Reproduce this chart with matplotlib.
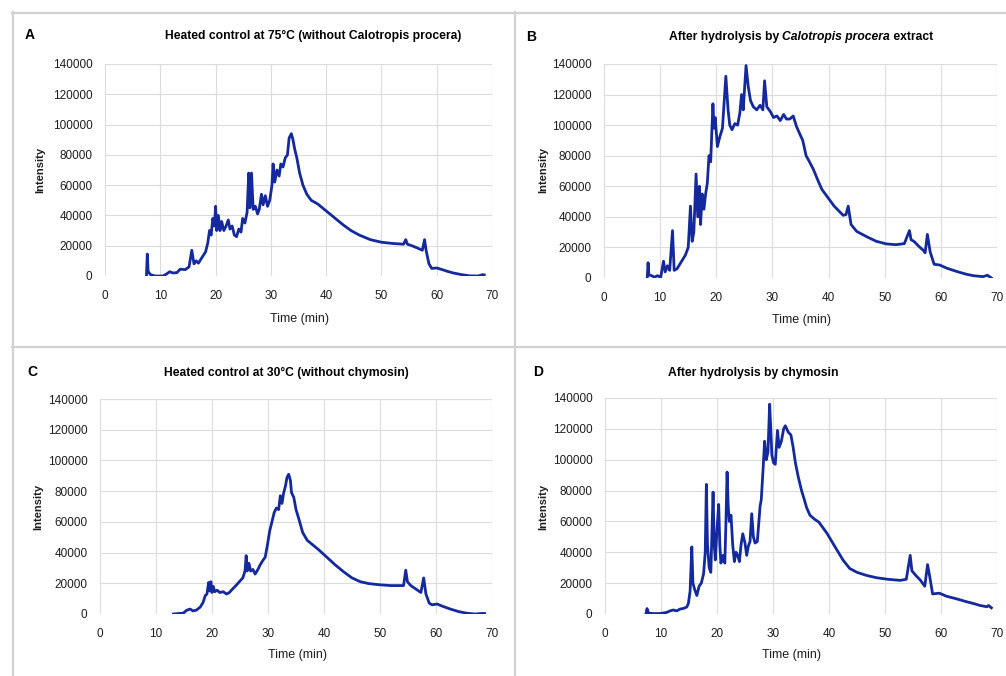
import matplotlib
matplotlib.use('Agg')
import matplotlib.pyplot as plt
from matplotlib.lines import Line2D

plt.rcParams['font.family'] = ['Liberation Sans', 'DejaVu Sans']

# ---- data ----
time_a = [7.5, 7.65, 7.8, 8.2, 9.0, 10.5, 11.2, 11.7, 12.3, 13.0, 13.6, 14.5, 15.2, 15.7, 16.1, 16.5,
          16.9, 17.5, 18.2, 18.6, 18.9, 19.2, 19.5, 19.8, 20.0, 20.2, 20.5, 20.8, 21.1, 21.5, 21.9,
          22.3, 22.6, 23.0, 23.4, 23.8, 24.2, 24.6, 24.9, 25.3, 25.7, 26.0, 26.2, 26.5, 26.8, 27.2,
          27.6, 27.9, 28.3, 28.6, 29.0, 29.4, 29.8, 30.2, 30.4, 30.7, 31.1, 31.5, 31.8, 32.2, 32.6,
          33.0, 33.3, 33.7, 34.0, 34.3, 34.7, 35.2, 35.8, 36.5, 37.3, 38.5, 40.0, 41.5, 43.0, 44.5,
          46.0, 48.0, 50.0, 52.0, 54.0, 54.4, 54.7, 55.5, 56.5, 57.4, 57.8, 58.1, 58.6, 59.1, 60.0,
          61.0, 62.0, 63.0, 64.5, 66.0, 67.5, 68.3, 68.6]
int_a = [0, 14500, 3000, 1000, 0, 0, 1500, 2800, 2000, 2200, 4500, 4200, 6000, 17000, 8000, 10000,
         8500, 12000, 16000, 22000, 30000, 27000, 38000, 33000, 46000, 30000, 40000, 30000, 36000,
         30000, 33000, 37000, 31000, 33000, 27000, 26000, 31000, 29000, 38000, 35000, 42000, 68000,
         45000, 68000, 44000, 46000, 41000, 44000, 54000, 47000, 53000, 46000, 50000, 60000, 74000,
         62000, 70000, 66000, 74000, 72000, 78000, 80000, 91000, 94000, 90000, 84000, 78000, 68000,
         60000, 54000, 50000, 47500, 43000, 38500, 34000, 30000, 27000, 24000, 22300, 21500, 21000,
         24000, 21000, 20000, 18500, 17000, 24000, 16500, 8000, 5000, 5300, 4200, 3000, 2000, 900,
         100, 0, 900, 700]

time_b = [7.7, 7.85, 8.0, 8.5, 9.0, 9.5, 10.1, 10.6, 10.9, 11.3, 11.7, 12.2, 12.5, 13.0, 13.5, 14.0,
          14.5, 15.0, 15.4, 15.7, 16.0, 16.4, 16.7, 17.0, 17.2, 17.5, 17.8, 18.1, 18.4, 18.7, 19.0,
          19.4, 19.6, 19.8, 20.2, 20.6, 21.1, 21.7, 22.1, 22.4, 22.8, 23.3, 23.8, 24.2, 24.5, 24.8,
          25.3, 25.7, 26.1, 26.6, 27.2, 27.8, 28.3, 28.6, 29.0, 29.6, 30.2, 30.8, 31.4, 32.0, 32.5,
          33.1, 33.7, 34.3, 34.9, 35.4, 36.0, 36.6, 37.3, 38.2, 38.8, 40.0, 41.0, 42.6, 43.1, 43.5,
          44.0, 45.0, 46.8, 48.5, 50.3, 52.0, 53.5, 54.4, 54.7, 55.2, 56.0, 56.9, 57.2, 57.6, 58.1,
          58.8, 59.8, 61.0, 62.8, 64.5, 65.8, 67.5, 68.3, 69.0]
int_b = [0, 10000, 2000, 1500, 500, 1500, 500, 11000, 4000, 8000, 5000, 31000, 5000, 6000, 9000,
         12000, 15000, 20000, 47000, 24000, 30000, 68000, 40000, 60000, 35000, 55000, 45000, 55000,
         62000, 80000, 76000, 114000, 98000, 105000, 86000, 92000, 98000, 132000, 110000, 100000,
         97000, 101000, 100000, 108000, 120000, 110000, 139000, 125000, 116000, 112000, 110000,
         113000, 110000, 129000, 112000, 109000, 105000, 106000, 103000, 107000, 104000, 104000,
         106000, 99000, 94000, 90000, 80000, 76000, 71000, 63000, 58000, 52000, 47000, 41000, 41500,
         47000, 35000, 30500, 27000, 24000, 22300, 21800, 22500, 31000, 25000, 24000, 21000, 18000,
         16500, 28500, 17000, 9000, 8500, 6500, 4300, 2500, 1500, 900, 1800, 0]

time_c = [13.1, 14.0, 14.9, 15.5, 16.1, 16.6, 17.2, 17.9, 18.4, 18.8, 19.1, 19.4, 19.6, 19.8, 20.0,
          20.2, 20.5, 20.9, 21.4, 22.0, 22.6, 23.1, 23.6, 24.4, 25.0, 25.5, 25.9, 26.1, 26.3, 26.6,
          26.9, 27.3, 27.7, 28.2, 28.6, 29.1, 29.5, 29.9, 30.3, 30.7, 31.1, 31.5, 31.9, 32.2, 32.5,
          32.8, 33.1, 33.4, 33.7, 34.0, 34.2, 34.6, 35.0, 35.5, 36.2, 37.0, 38.0, 39.0, 40.5, 42.0,
          43.5, 45.0, 46.5, 48.0, 50.0, 52.0, 54.2, 54.6, 54.9, 55.5, 56.5, 57.3, 57.8, 58.2, 58.8,
          59.3, 60.2, 61.2, 62.5, 64.0, 65.5, 67.0, 68.3, 68.7]
int_c = [0, 300, 600, 2500, 3200, 2000, 2500, 4500, 7500, 12000, 13000, 20500, 15000, 21000, 14000,
         18000, 14500, 15500, 14000, 14500, 13000, 14000, 16000, 19000, 21500, 23500, 28000, 38000,
         28000, 33000, 28000, 29000, 26000, 29000, 32000, 35000, 37000, 45000, 54000, 60000, 66000,
         69000, 68000, 77000, 72000, 79000, 83000, 89000, 91000, 87000, 79000, 76000, 68000, 62000,
         53000, 48000, 45000, 42000, 37000, 32000, 27500, 23500, 21000, 19800, 19000, 18500, 18500,
         28500, 21000, 18500, 16000, 14000, 23500, 13000, 7000, 6000, 6500, 5000, 3300, 1600, 500, 0,
         400, 300]

time_d = [7.3, 7.5, 7.8, 8.6, 9.8, 11.0, 11.6, 12.2, 12.8, 13.4, 14.0, 14.6, 14.9, 15.2, 15.5, 15.7,
          16.0, 16.4, 16.8, 17.2, 17.6, 17.9, 18.1, 18.3, 18.6, 18.9, 19.3, 19.5, 19.7, 20.0, 20.3,
          20.5, 20.7, 21.1, 21.4, 21.6, 21.8, 22.0, 22.2, 22.5, 22.8, 23.1, 23.4, 23.7, 24.0, 24.3,
          24.6, 25.0, 25.3, 25.6, 25.9, 26.2, 26.5, 26.8, 27.2, 27.7, 27.9, 28.2, 28.5, 28.8, 29.1,
          29.4, 29.6, 29.8, 30.1, 30.4, 30.8, 31.1, 31.5, 31.9, 32.2, 32.7, 33.2, 33.6, 34.0, 34.5,
          35.1, 35.6, 36.0, 36.6, 37.4, 38.2, 39.6, 41.0, 42.5, 43.7, 45.0, 46.7, 48.5, 50.5, 52.7,
          53.8, 54.5, 54.8, 55.5, 56.3, 57.1, 57.6, 58.0, 58.5, 59.7, 61.0, 62.8, 64.5, 65.8, 67.0,
          68.2, 68.5, 69.0]
int_d = [0, 3500, 500, 300, 300, 1000, 2000, 2600, 2000, 3200, 3600, 4500, 7000, 15000, 43500, 20000,
         16000, 12000, 18000, 20000, 26000, 40000, 84000, 45000, 30000, 27000, 79000, 45000, 35000,
         55000, 71000, 45000, 33000, 38000, 33000, 60000, 92000, 70000, 60000, 64000, 45000, 34000,
         40000, 38000, 34000, 45000, 52000, 46000, 38000, 44000, 47000, 65000, 50000, 46000, 47000,
         70000, 74000, 92000, 112000, 100000, 105000, 136000, 120000, 103000, 98000, 97000, 119000,
         108000, 112000, 120000, 122000, 118000, 116000, 108000, 98000, 89000, 80000, 74000, 69000,
         64000, 61500, 59500, 52500, 44000, 35000, 29500, 27000, 25000, 23500, 22500, 21800, 22500,
         38000, 28000, 25000, 22000, 18000, 32000, 24000, 13000, 13500, 11500, 9800, 8000, 6800, 5500,
         4700, 5500, 4000]

x_ticks = [0, 10, 20, 30, 40, 50, 60, 70]
y_ticks = [0, 20000, 40000, 60000, 80000, 100000, 120000, 140000]

W, H = 1006, 676
LINE = '#13299d'
GRID = '#dcdcdc'
TXT = '#1e1e1e'


def fx(px):
    return px / W


def fy(py):
    return 1 - py / H


fig = plt.figure(figsize=(W / 100, H / 100), dpi=100)
fig.patch.set_facecolor('white')

# panel frames
for xs, ys in [([12, W], [13, 13]), ([13, 13], [12, H]), ([515, 515], [12, H]), ([12, W], [347, 347])]:
    fig.add_artist(Line2D([fx(x) for x in xs], [fy(y) for y in ys], transform=fig.transFigure,
                          color='#d2d2d2', lw=1.6))

# (left, top, right, bottom) in pixels for each plot area
panels = [
    dict(box=(105, 64, 492, 276), t=time_a, y=int_a, letter='A', lpos=(30, 35),
         title=[('Heated control at 75°C (without Calotropis procera)', 'normal')], tpos=(313, 36),
         ylab=(40, 170), xlab=(300, 319)),
    dict(box=(604, 64, 997, 278), t=time_b, y=int_b, letter='B', lpos=(531, 37),
         title=[('After hydrolysis by ', 'normal'), ('Calotropis procera', 'italic'), (' extract', 'normal')],
         tpos=(801, 37), ylab=(543, 170), xlab=(802, 320)),
    dict(box=(100, 399, 492, 614), t=time_c, y=int_c, letter='C', lpos=(32, 372),
         title=[('Heated control at 30°C (without chymosin)', 'normal')], tpos=(286, 373),
         ylab=(38, 507), xlab=(298, 655)),
    dict(box=(605, 398, 997, 614), t=time_d, y=int_d, letter='D', lpos=(538, 372),
         title=[('After hydrolysis by chymosin', 'normal')], tpos=(753, 373),
         ylab=(543, 507), xlab=(792, 655)),
]

renderer = fig.canvas.get_renderer()

for p in panels:
    l, t, r, b = p['box']
    ax = fig.add_axes([fx(l), fy(b), (r - l) / W, (b - t) / H])
    ax.plot(p['t'], p['y'], color=LINE, lw=2.0, solid_joinstyle='round', zorder=3)
    ax.set_xlim(0, 70)
    ax.set_ylim(0, 140000)
    ax.set_xticks(x_ticks)
    ax.set_yticks(y_ticks)
    ax.grid(True, color=GRID, lw=0.8)
    ax.set_axisbelow(True)
    for s in ax.spines.values():
        s.set_visible(False)
    ax.axhline(140000, color=GRID, lw=0.8, zorder=1)
    ax.axvline(70, color=GRID, lw=0.8, zorder=1)
    ax.tick_params(length=0, labelsize=8.5, labelcolor=TXT)
    ax.tick_params(axis='y', pad=9)
    ax.tick_params(axis='x', pad=10)

    fig.text(fx(p['lpos'][0]), fy(p['lpos'][1]), p['letter'], fontsize=10, fontweight='bold',
             ha='center', va='center', color='black')
    fig.text(fx(p['ylab'][0]), fy(p['ylab'][1]), 'Intensity', rotation=90, fontsize=8,
             fontweight='bold', ha='center', va='center', color=TXT)
    fig.text(fx(p['xlab'][0]), fy(p['xlab'][1]), 'Time (min)', fontsize=9,
             ha='center', va='center', color=TXT)

    # title, possibly with an italic part
    texts = []
    for s, style in p['title']:
        txt = fig.text(0, fy(p['tpos'][1]), s, fontsize=8.7, fontweight='bold', style=style,
                       ha='left', va='center', color='black')
        texts.append(txt)
    widths = [txt.get_window_extent(renderer).width for txt in texts]
    x0 = p['tpos'][0] - sum(widths) / 2
    for txt, w in zip(texts, widths):
        txt.set_x(fx(x0))
        x0 += w

fig.savefig('out.png', dpi=100, facecolor='white')
